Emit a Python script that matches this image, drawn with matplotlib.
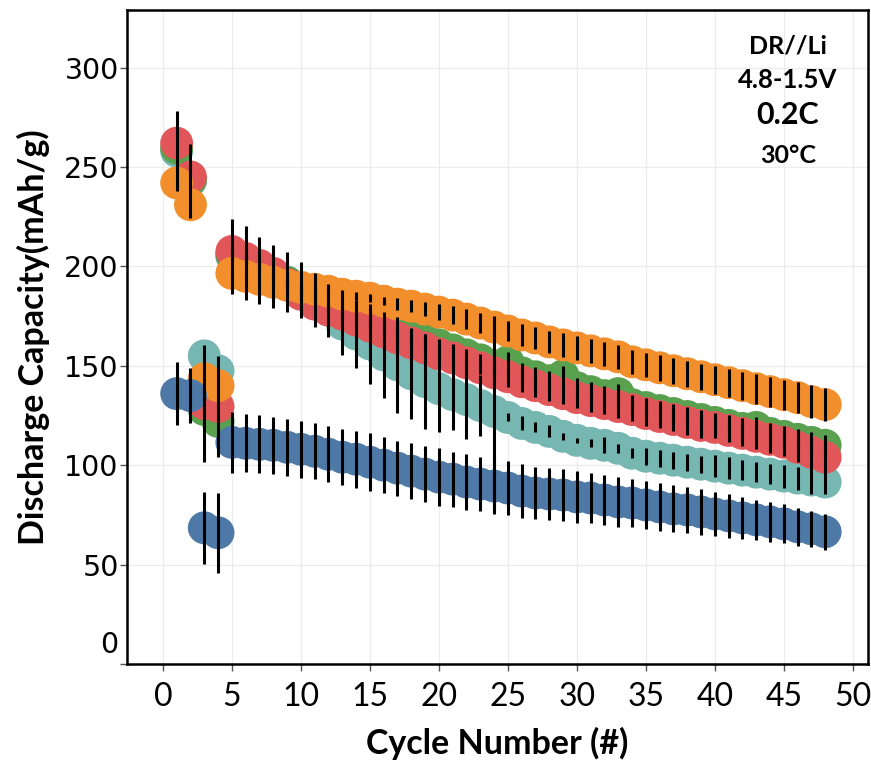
import numpy as np
import matplotlib.pyplot as plt
from matplotlib.transforms import ScaledTranslation

cycle = np.arange(1, 49)

# discharge capacity (mAh/g) per cell
teal = [258, 243, 155, 147.5, 205, 201.5, 198, 195, 192, 188, 183, 178, 171, 166,
        161, 155.5, 150.5, 146, 142, 138.5, 135.5, 133, 130, 127, 124, 121, 119, 117,
        114.5, 112.5, 111, 110, 108.5, 106, 104.5, 103.5, 102.5, 101.5, 100.5, 99.5,
        98.5, 97.5, 96.5, 95.5, 94.5, 93.5, 92.5, 91.5]
green = [259.5, 243.5, 128, 122, 206, 203, 199.5, 196, 192, 188, 184, 181, 178, 175.5,
         173, 170.5, 168, 165.5, 163, 160.5, 158, 155.5, 153, 150, 152, 146.5, 144.5,
         142.5, 145, 139, 137, 135, 136, 130.5, 129, 127.5, 126, 124.5, 123, 121.5,
         120, 118.5, 119, 116, 114.5, 113, 111.5, 110]
red = [262, 245, 131, 129.5, 207.5, 204, 200.5, 196.5, 191, 186, 181, 178, 176, 173,
       170, 167, 164, 161.5, 159, 156, 154, 151.5, 149, 146.5, 144.5, 142, 140, 138,
       136, 134, 132.5, 131, 129.5, 128, 126, 124.5, 123, 121.5, 120, 119, 117.5, 116,
       114.5, 113, 111.5, 109, 106.5, 104]
orange = [242, 231, 143.5, 140, 196.5, 195, 193.5, 192, 190.5, 189.5, 188.5, 187.5,
          186, 185, 184, 182.5, 181, 180, 178.5, 177, 175.5, 173.5, 171.5, 169.5, 167.5,
          165.5, 164, 162, 160.5, 159, 157.5, 156, 154.5, 152, 150.5, 149, 147.5, 146,
          144.5, 143, 141.5, 140, 138.5, 137, 135.5, 134, 132, 130.5]
blue = [136, 135, 68.5, 66, 111.5, 111, 110.5, 110, 109, 108, 107, 105.5, 104, 103,
        101.5, 100, 98.5, 97, 95.5, 94, 93, 91.5, 90.5, 89.5, 88.5, 87, 86, 85.5, 85, 84,
        83.5, 82.5, 81.5, 81, 80, 79, 78, 77.5, 76.5, 75.5, 74.5, 73.5, 72.5, 71.5, 70.5,
        69, 68, 66.5]

# standard deviations
teal_err = [20, 18.5, 0, 0, 19, 18.6, 17, 16, 15, 14, 13.6, 13.3, 15.7, 17, 20, 21.7,
            24, 23, 24, 22, 18, 20, 15.5, 48, 2, 3.5, 2.5, 3, 1.7, 1.3, 2, 4, 2.3, 2.5,
            4.2, 4.2, 4.2, 4.2, 4.2, 5.4, 5.4, 5, 5.2, 5, 5.8, 5.8, 7, 5.8]
green_err = [0, 0, 0, 0] + [3] * 20 + [5] * 24
red_err = [0, 0, 29.5, 25.5] + [3] * 20 + [5, 5, 5.5, 5.5, 5, 5, 5.5, 5.5, 6, 6, 6.3,
           6, 6, 6.5, 6.5, 5.5, 6, 6.5, 6.5, 7, 7, 7.5, 7.5, 7.5]
orange_err = [0, 0, 0, 0] + [2] * 12 + [3, 3, 3.5, 4, 4.5, 5, 5, 5, 5, 5.5, 5.5, 5.5,
              6, 6, 6, 6, 6, 6, 6, 6.5, 6.5, 6.5, 6.5, 7, 7, 7, 7.5, 7.5, 7.5, 8,
              8.5, 8.5]
blue_err = [16, 14, 18, 20, 15.5, 14.6, 14.5, 14.4, 14.2, 14.2, 14.2, 14.2, 14.2, 14.4,
            14.6, 14.2, 13.8, 14.2, 14, 14.4, 13.8, 14, 13.8, 14, 13.4, 13.4, 13.2, 13,
            13, 13, 12.8, 12.5, 12.5, 12.2, 12, 12, 11.8, 11.5, 11.5, 11.2, 11, 10.5,
            10.2, 10, 9.8, 9.5, 9.2, 9]

series = [
    (teal, teal_err, '#76B7B2'),
    (green, green_err, '#59A14F'),
    (red, red_err, '#E15759'),
    (orange, orange_err, '#F28E2B'),
    (blue, blue_err, '#4E79A7'),
]

fig = plt.figure(figsize=(8.71, 7.66), dpi=100)
ax = fig.add_axes([0.1458, 0.1332, 0.8507, 0.8538])

for i, (vals, err, col) in enumerate(series):
    ax.scatter(cycle, vals, s=560, color=col, edgecolors='none', zorder=3 + i)
for i, (vals, err, col) in enumerate(series):
    ax.errorbar(cycle, vals, yerr=err, fmt='none', ecolor='black',
                elinewidth=2.2, capsize=0, zorder=20)

ax.set_xlim(-2.6, 51.1)
ax.set_ylim(0, 329)
ax.set_xticks(np.arange(0, 51, 5))
ax.set_yticks(np.arange(0, 301, 50))
ax.grid(True, color='#ececec', linewidth=0.9)
ax.set_axisbelow(True)

for sp in ax.spines.values():
    sp.set_linewidth(1.8)
    sp.set_color('black')

ax.tick_params(axis='both', direction='out', length=5, width=1, color='#555555')
ax.tick_params(axis='y', pad=1)
ax.tick_params(axis='x', pad=8)
for lab in ax.get_yticklabels():
    lab.set_fontfamily('DejaVu Sans')
    lab.set_fontsize(20.5)
for lab in ax.get_xticklabels():
    lab.set_fontfamily('Lato')
    lab.set_fontsize(23)

# lift the zero label off the bottom spine
zero = ax.yaxis.get_major_ticks()[0].label1
zero.set_transform(zero.get_transform() + ScaledTranslation(0, 16 / 72, fig.dpi_scale_trans))

ax.set_xlabel('Cycle Number (#)', fontfamily='Lato', fontweight='bold', fontsize=24.5,
              labelpad=11)
ax.set_ylabel('Discharge Capacity(mAh/g)', fontfamily='Lato', fontweight='bold',
              fontsize=24.5, labelpad=10)

tx = 45.3
ax.text(tx, 311, 'DR//Li', ha='center', va='center', fontfamily='Lato',
        fontweight='bold', fontsize=18)
ax.text(tx, 294, '4.8-1.5V', ha='center', va='center', fontfamily='Lato',
        fontweight='bold', fontsize=18.5)
ax.text(tx, 276, '0.2C', ha='center', va='center', fontfamily='Lato',
        fontweight='bold', fontsize=22)
ax.text(tx, 256, '30°C', ha='center', va='center', fontfamily='Lato',
        fontweight='bold', fontsize=18)

fig.savefig('out.png', dpi=100)
